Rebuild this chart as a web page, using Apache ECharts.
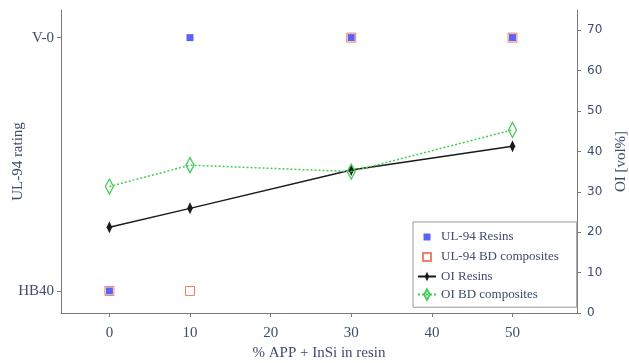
<!DOCTYPE html>
<html>
<head>
<meta charset="utf-8">
<script src="https://cdn.jsdelivr.net/npm/echarts@6/dist/echarts.min.js"></script>
<style>
   html, body { margin: 0; padding: 0; background: #fff; }
   #chart { width: 629px; height: 363px; }
</style>
</head>
<body>
<div id="chart"></div>
<script>
// data
const xValues = [0, 10, 30, 50];
const ratingLevels = ['HB40', 'V-0'];
const ul94Resins = ['HB40', 'V-0', 'V-0', 'V-0'];
const ul94Composites = ['HB40', 'HB40', 'V-0', 'V-0'];
const oiResins = [21.2, 25.9, 35.4, 41.3];
const oiComposites = [31.3, 36.6, 35.0, 45.3];
const xTicks = [0, 10, 20, 30, 40, 50];
const oiTicks = [0, 10, 20, 30, 40, 50, 60, 70];

const textColor = '#3e4c6d';
const axisColor = '#7a7a7a';
const serif = 'Liberation Serif';

// thin diamonds, padded with move-to points so the box stays square
const thinDiamond = 'path://M-7,-7M7,7M0,-6L2.8,0L0,6L-2.8,0Z';
const openDiamond = 'path://M-8,-8M8,8M0,-7.5L4,0L0,7.5L-4,0Z';
const smallSquare = 'path://M0,0M14,14M3.5,3.5h7v7h-7z';
const openSquare = 'path://M0,0M14,14M3,3h8v8h-8z';

function pairs(xs, ys) {
   return xs.map((x, i) => [x, ys[i]]);
}

function ratingPairs(xs, ratings) {
   return xs.map((x, i) => [x, ratingLevels.indexOf(ratings[i])]);
}

const chart = echarts.init(document.getElementById('chart'), null, { renderer: 'canvas' });

chart.setOption({
   animation: false,
   textStyle: { fontFamily: serif, color: textColor },
   grid: { left: 61, right: 52, top: 10, bottom: 50, containLabel: false, outerBoundsMode: 'none' },
   legend: {
      orient: 'vertical',
      left: 413,
      top: 222,
      padding: [8, 18, 6, 4],
      itemGap: 5,
      itemWidth: 18,
      itemHeight: 14,
      borderColor: '#999',
      borderWidth: 1,
      backgroundColor: '#fff',
      textStyle: { fontFamily: serif, fontSize: 13, color: textColor },
      data: [
         { name: 'UL-94 Resins', icon: smallSquare },
         { name: 'UL-94 BD composites', icon: openSquare },
         { name: 'OI Resins' },
         { name: 'OI BD composites' }
      ]
   },
   xAxis: {
      type: 'value',
      min: -6,
      max: 58,
      name: '% APP + InSi in resin',
      nameLocation: 'middle',
      nameGap: 33,
      nameMoveOverlap: false,
      nameTextStyle: { fontFamily: serif, fontSize: 15, color: textColor },
      splitLine: { show: false },
      axisLine: { onZero: false, lineStyle: { color: axisColor } },
      axisTick: { customValues: xTicks, length: 4, lineStyle: { color: axisColor } },
      axisLabel: { customValues: xTicks, margin: 13, fontFamily: serif, fontSize: 15, color: textColor }
   },
   yAxis: [
      {
         type: 'value',
         position: 'left',
         min: -0.087,
         max: 1.109,
         name: 'UL-94 rating',
         nameLocation: 'middle',
         nameGap: 35,
         nameMoveOverlap: false,
         nameTextStyle: { fontFamily: serif, fontSize: 15, color: textColor },
         splitLine: { show: false },
         axisLine: { show: true, onZero: false, lineStyle: { color: axisColor } },
         axisTick: { show: true, customValues: [0, 1], length: 4, lineStyle: { color: axisColor } },
         axisLabel: {
            customValues: [0, 1],
            margin: 7,
            fontFamily: serif,
            fontSize: 15,
            color: textColor,
            formatter: v => ratingLevels[Math.round(v)]
         }
      },
      {
         type: 'value',
         position: 'right',
         min: 0,
         max: 75,
         name: 'OI [vol%]',
         nameLocation: 'middle',
         nameGap: 37,
         nameMoveOverlap: false,
         nameTextStyle: { fontFamily: serif, fontSize: 15, color: textColor },
         splitLine: { show: false },
         axisLine: { show: true, onZero: false, lineStyle: { color: axisColor } },
         axisTick: { show: true, customValues: oiTicks, length: 4, lineStyle: { color: axisColor } },
         axisLabel: { customValues: oiTicks, margin: 10, fontFamily: 'DejaVu Sans', fontSize: 12, color: textColor }
      }
   ],
   series: [
      {
         name: 'UL-94 Resins',
         type: 'scatter',
         yAxisIndex: 0,
         symbol: 'rect',
         symbolSize: 7,
         itemStyle: { color: '#5a63f5', opacity: 1 },
         data: ratingPairs(xValues, ul94Resins),
         z: 3
      },
      {
         name: 'UL-94 BD composites',
         type: 'scatter',
         yAxisIndex: 0,
         symbol: 'rect',
         symbolSize: 9,
         itemStyle: { color: 'rgba(0,0,0,0)', borderColor: '#f0806c', borderWidth: 1, opacity: 1 },
         data: ratingPairs(xValues, ul94Composites),
         z: 4
      },
      {
         name: 'OI Resins',
         type: 'line',
         yAxisIndex: 1,
         symbol: thinDiamond,
         symbolSize: 14,
         showAllSymbol: true,
         lineStyle: { color: '#1a1a1a', width: 1.5 },
         itemStyle: { color: '#1a1a1a' },
         data: pairs(xValues, oiResins),
         z: 5
      },
      {
         name: 'OI BD composites',
         type: 'line',
         yAxisIndex: 1,
         symbol: openDiamond,
         symbolSize: 16,
         showAllSymbol: true,
         lineStyle: { color: '#45cc58', width: 1.5, type: [2, 2] },
         itemStyle: { color: 'rgba(255,255,255,0)', borderColor: '#45cc58', borderWidth: 1.3 },
         data: pairs(xValues, oiComposites),
         z: 6
      }
   ]
});
</script>
</body>
</html>
